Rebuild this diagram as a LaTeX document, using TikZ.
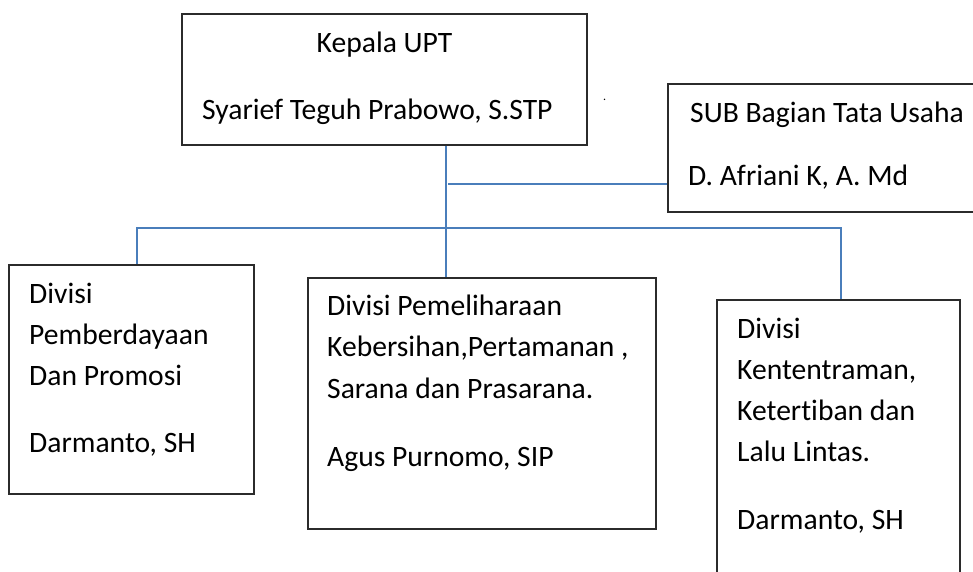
\documentclass[tikz,border=0pt]{standalone}
\usepackage{fontspec}
\setmainfont[Ligatures={NoCommon}]{Carlito}
\definecolor{conn}{HTML}{4A7EBB}
\definecolor{edge}{HTML}{2B2B2B}
\begin{document}
\begin{tikzpicture}[x=1pt,y=-1pt,
  box/.style={draw=edge,line width=1.5pt,inner sep=0pt,anchor=north west},
  txt/.style={anchor=base west,inner sep=0pt,font=\fontsize{29.6}{35}\selectfont},
  ctxt/.style={anchor=base,inner sep=0pt,font=\fontsize{29.6}{35}\selectfont},
  link/.style={draw=conn,line width=2pt}]
\useasboundingbox (0,0) rectangle (973,571);
\clip (0,0) rectangle (973,571);
\fill[white] (0,0) rectangle (973,571);
% boxes
\node[box,minimum width=405pt,minimum height=131pt] (top) at (181,13) {};
\node[box,minimum width=340pt,minimum height=128pt] (sub) at (667,83) {};
\node[box,minimum width=245pt,minimum height=229pt] (left) at (8,264) {};
\node[box,minimum width=348pt,minimum height=251pt] (mid) at (307,277) {};
\node[box,minimum width=243pt,minimum height=320pt] (right) at (716,299) {};
% texts
\node[ctxt] (t1) at (384.5,52) {Kepala UPT};
\node[txt] (t2) at (202,119) {Syarief Teguh Prabowo, S.STP};
\node[anchor=base west,inner sep=0pt,font=\fontsize{12}{14}\selectfont] (dot) at (603,100) {.};
\node[txt] (s1) at (690,122) {SUB Bagian Tata Usaha};
\node[txt] (s2) at (688,185) {D. Afriani K, A. Md};
\node[txt] (l1) at (29,303) {Divisi};
\node[txt] (l2) at (29,344) {Pemberdayaan};
\node[txt] (l3) at (29,385) {Dan Promosi};
\node[txt] (l4) at (29,452) {Darmanto, SH};
\node[txt] (m1) at (327,315) {Divisi Pemeliharaan};
\node[txt] (m2) at (327,356) {Kebersihan,Pertamanan ,};
\node[txt] (m3) at (327,398) {Sarana dan Prasarana.};
\node[txt] (m4) at (327,466) {Agus Purnomo, SIP};
\node[txt] (r1) at (737,338) {Divisi};
\node[txt] (r2) at (737,379) {Kententraman,};
\node[txt] (r3) at (737,420) {Ketertiban dan};
\node[txt] (r4) at (737,461) {Lalu Lintas.};
\node[txt] (r5) at (737,529) {Darmanto, SH};
% connectors
\coordinate (j1) at (446,184);
\coordinate (j1s) at (448,184);
\coordinate (cl) at (137,228);
\coordinate (cr) at (841,228);
\draw[link] (top.south -| j1) -- (mid.north -| j1);
\draw[link] (j1s) -- (sub.west |- j1s);
\draw[link] (left.north -| cl) -- (cl) -- (cr) -- (right.north -| cr);
\end{tikzpicture}
\end{document}
